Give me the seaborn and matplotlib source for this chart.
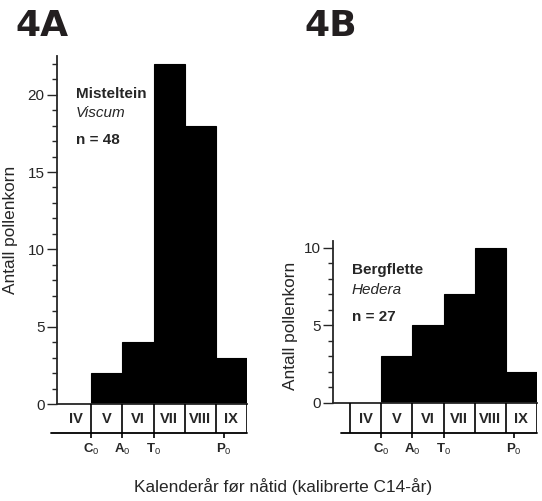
import matplotlib
matplotlib.use('Agg')
import matplotlib.pyplot as plt
from matplotlib.ticker import MultipleLocator
import seaborn as sns
import pandas as pd

# pollen classes and counts
classes = ['IV', 'V', 'VI', 'VII', 'VIII', 'IX']
viscum_counts = [0, 2, 4, 22, 18, 3]
hedera_counts = [0, 3, 5, 7, 10, 2]
boundary_labels = ['C', 'A', 'T', 'P']
boundary_pos = [0.5, 1.5, 2.5, 4.77]

W, H = 542, 501


def px_rect(left, top, right, bottom):
    return [left / W, 1 - bottom / H, (right - left) / W, (bottom - top) / H]


def fx(x):
    return x / W


def fy(y):
    return 1 - y / H


def draw_panel(fig, counts, main_rect, box_rect, xlim, ymax, yticks, box_left_edge):
    ax = fig.add_axes(main_rect)
    df = pd.DataFrame({'klasse': classes, 'antall': counts})
    sns.barplot(data=df, x='klasse', y='antall', width=1, color='black',
                saturation=1, edgecolor='black', linewidth=0.8, errorbar=None, ax=ax)
    ax.set_xlim(*xlim)
    ax.set_ylim(0, ymax)
    ax.set_xlabel('')
    ax.set_ylabel('')
    ax.set_xticks([])
    ax.set_yticks(yticks)
    ax.yaxis.set_minor_locator(MultipleLocator(1))
    ax.tick_params(axis='y', which='major', length=7, width=1, labelsize=11, pad=2)
    ax.tick_params(axis='y', which='minor', length=3.5, width=1)
    sns.despine(ax=ax)
    for s in ['left', 'bottom']:
        ax.spines[s].set_linewidth(1.3)

    # class boxes under the bars
    bx = fig.add_axes(box_rect)
    bx.set_xlim(*xlim)
    bx.set_ylim(0, 1)
    bx.axis('off')
    edges = [i + 0.5 for i in range(len(classes))]
    if box_left_edge:
        edges = [-0.5] + edges
    bx.vlines(edges, 0, 1, color='black', lw=1.2)
    bx.plot([-0.78, 5.5], [0, 0], color='black', lw=1.3, clip_on=False)
    for i, c in enumerate(classes):
        bx.text(i, 0.48, c, ha='center', va='center', fontsize=10.5, fontweight='bold')
    bx.vlines(boundary_pos, -0.18, 0, color='black', lw=1.2, clip_on=False)
    for p, lab in zip(boundary_pos, boundary_labels):
        bx.text(p, -0.3, lab + r'$_\mathrm{0}$', ha='center', va='top',
                fontsize=9.5, fontweight='bold')
    return ax


sns.set_style('ticks')
plt.rcParams['font.family'] = ['Liberation Sans', 'DejaVu Sans']
plt.rcParams['mathtext.fontset'] = 'custom'
plt.rcParams['mathtext.rm'] = 'Liberation Sans'

fig = plt.figure(figsize=(5.42, 5.01), dpi=100)

draw_panel(fig, viscum_counts, px_rect(57, 56, 247, 404), px_rect(57, 404, 247, 433),
           (-0.6, 5.5), 22.5, [0, 5, 10, 15, 20], False)
draw_panel(fig, hedera_counts, px_rect(333, 241, 537, 403), px_rect(333, 403, 537, 433),
           (-1.05, 5.5), 10.45, [0, 5, 10], True)

# panel titles
fig.text(fx(15), fy(36), '4A', fontsize=26, fontweight='bold', family='DejaVu Sans',
         color='#231f20', va='baseline')
fig.text(fx(304), fy(36), '4B', fontsize=26, fontweight='bold', family='DejaVu Sans',
         color='#231f20', va='baseline')

# y labels
fig.text(fx(11), fy(230), 'Antall pollenkorn', rotation=90, ha='center', va='center', fontsize=12.4)
fig.text(fx(290), fy(326), 'Antall pollenkorn', rotation=90, ha='center', va='center', fontsize=12.4)

# species notes
fig.text(fx(76), fy(94), 'Misteltein', fontsize=11, fontweight='bold', va='center')
fig.text(fx(76), fy(113), 'Viscum', fontsize=11, style='italic', va='center')
fig.text(fx(76), fy(140), 'n = 48', fontsize=11, fontweight='bold', va='center')
fig.text(fx(352), fy(270), 'Bergflette', fontsize=11, fontweight='bold', va='center')
fig.text(fx(352), fy(290), 'Hedera', fontsize=11, style='italic', va='center')
fig.text(fx(352), fy(317), 'n = 27', fontsize=11, fontweight='bold', va='center')

fig.text(fx(283), fy(487), 'Kalenderår før nåtid (kalibrerte C14-år)', ha='center',
         va='center', fontsize=12.4)

fig.savefig('out.png', dpi=100)
